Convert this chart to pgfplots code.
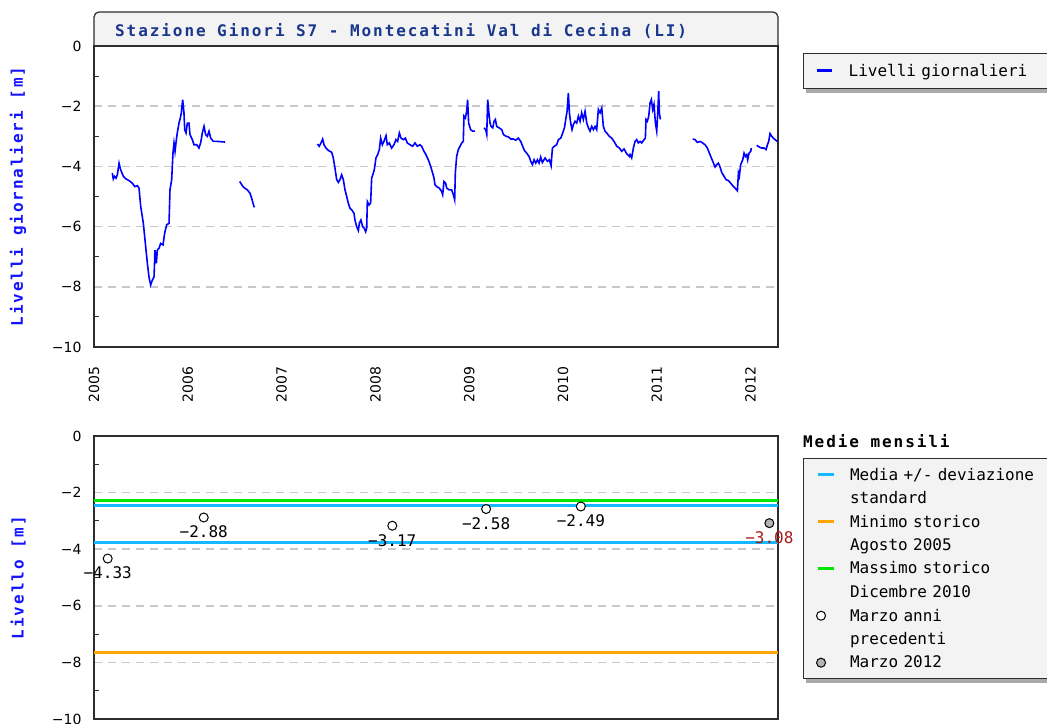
\documentclass[border=0pt]{standalone}
\usepackage{fontspec}
\setmainfont{DejaVu Sans}
\newfontfamily\mono{DejaVu Sans Mono}
\newfontfamily\monob[LetterSpace=12]{DejaVu Sans Mono}
\usepackage{pgfplots}
\pgfplotsset{compat=1.18}
\usetikzlibrary{backgrounds}

\definecolor{frame}{RGB}{45,45,45}
\definecolor{boxgray}{RGB}{243,243,243}
\definecolor{gridgray}{RGB}{200,200,200}
\definecolor{titleblue}{RGB}{25,55,140}
\definecolor{labelblue}{RGB}{20,20,255}
\definecolor{seriesblue}{RGB}{0,0,255}
\definecolor{cyanline}{RGB}{20,185,255}
\definecolor{orangeline}{RGB}{255,165,0}
\definecolor{greenline}{RGB}{0,230,0}
\definecolor{darkred}{RGB}{170,25,25}
\definecolor{markgray}{RGB}{180,180,180}
\definecolor{shadowgray}{RGB}{170,170,170}

\pgfplotsset{
  panel/.style={
    scale only axis, width=684pt,
    xmin=2005, xmax=2012.292, ymin=-10, ymax=0,
    axis line style={draw=frame, line width=1.2pt},
    ytick={-10,-8,-6,-4,-2,0},
    yticklabels={−10,−8,−6,−4,−2,0},
    minor ytick={-9,-7,-5,-3,-1},
    ymajorgrids,
    major grid style={gridgray, dash pattern=on 8pt off 6pt, line width=1.5pt},
    ytick pos=left, tick align=inside,
    major tick length=0pt, minor tick length=5pt,
    minor tick style={frame, line width=1pt},
    yticklabel style={font=\fontsize{14}{16}\selectfont, xshift=-9pt},
    ylabel style={font=\monob\bfseries\fontsize{16}{19}\selectfont, text=labelblue,
      at={(axis description cs:-0.111,0.5)}, anchor=center},
    legend style={anchor=north west, fill=boxgray, draw=frame, line width=1pt,
      font=\mono\fontsize{16}{19}\selectfont, inner xsep=3pt},
    legend cell align=left,
  },
  lineimg/.style={legend image code/.code={\path (0pt,0pt) (36pt,0pt);
      \draw[##1] (10pt,0pt) -- (26pt,0pt);}},
  thickimg/.style={legend image code/.code={\path (0pt,0pt) (36pt,0pt);
      \draw[##1, line width=3pt] (10pt,0pt) -- (25pt,0pt);}},
  markimg/.style={legend image code/.code={\path (0pt,0pt) (36pt,0pt);
      \draw[##1] plot coordinates {(13pt,0pt)};}},
  emptyimg/.style={legend image code/.code={\path (0pt,0pt) (36pt,0pt);}},
}

\begin{document}
\begin{tikzpicture}[x=1pt,y=1pt]
\useasboundingbox (0,0) rectangle (1047,-723);
\clip (0,0) rectangle (1047,-723);

% title box of the upper panel
\filldraw[fill=boxgray, draw=frame, line width=1.2pt, rounded corners=5pt]
  (94,-46) -- (94,-12) -- (778,-12) -- (778,-46);
\node[anchor=west, inner sep=0pt, text=titleblue, font=\monob\bfseries\fontsize{16}{19}\selectfont]
  at (115,-31) {Stazione Ginori S7 - Montecatini Val di Cecina (LI)};

\begin{axis}[panel,
  at={(94pt,-46pt)}, anchor=north west, height=301pt,
  xtick={2005,2006,2007,2008,2009,2010,2011,2012},
  xticklabels={2005,2006,2007,2008,2009,2010,2011,2012},
  xtick style={draw=none},
  xticklabel style={font=\fontsize{14}{16}\selectfont, yshift=-16pt, rotate=90, anchor=east},
  ylabel={Livelli giornalieri [m]},
  legend style={name=legtop, at={(1.0366,0.9767)}, inner ysep=3.5pt,
    nodes={text width=220pt, inner xsep=4.5pt, inner ysep=7pt}},
]
\addplot[seriesblue, line width=1.6pt, unbounded coords=jump, thickimg] coordinates {
(2005.195,-4.22)(2005.206,-4.42)(2005.220,-4.33)(2005.235,-4.39)(2005.249,-4.28)(2005.267,-3.89)
(2005.284,-4.11)(2005.313,-4.33)(2005.338,-4.41)(2005.373,-4.47)(2005.409,-4.56)(2005.434,-4.67)
(2005.462,-4.64)(2005.480,-4.72)(2005.498,-5.33)(2005.526,-5.89)(2005.551,-6.67)(2005.569,-7.22)
(2005.586,-7.67)(2005.604,-7.94)(2005.622,-7.78)(2005.640,-7.67)(2005.650,-6.78)(2005.665,-7.22)
(2005.675,-6.78)(2005.693,-6.72)(2005.711,-6.56)(2005.736,-6.61)(2005.753,-6.22)(2005.775,-5.94)
(2005.800,-5.89)(2005.810,-4.78)(2005.828,-4.44)(2005.842,-3.56)(2005.853,-3.22)(2005.864,-3.50)
(2005.878,-3.11)(2005.888,-2.89)(2005.906,-2.56)(2005.917,-2.44)(2005.931,-2.22)(2005.945,-1.78)
(2005.959,-2.22)(2005.967,-2.78)(2005.981,-2.89)(2005.995,-2.56)(2006.013,-2.56)(2006.023,-2.94)
(2006.048,-3.11)(2006.066,-3.28)(2006.095,-3.28)(2006.119,-3.39)(2006.137,-3.22)(2006.155,-2.89)
(2006.173,-2.67)(2006.190,-2.94)(2006.208,-3.00)(2006.226,-2.83)(2006.244,-3.06)(2006.272,-3.17)
(2006.315,-3.17)(2006.397,-3.19)
(2006.45,nan)
(2006.553,-4.50)(2006.581,-4.64)(2006.606,-4.72)(2006.635,-4.78)(2006.663,-4.89)(2006.681,-5.06)
(2006.695,-5.22)(2006.709,-5.36)
(2007.0,nan)
(2007.381,-3.26)(2007.402,-3.33)(2007.420,-3.22)(2007.438,-3.09)(2007.452,-3.28)(2007.473,-3.39)
(2007.498,-3.47)(2007.534,-3.53)(2007.551,-3.72)(2007.569,-4.06)(2007.587,-4.44)(2007.605,-4.53)
(2007.622,-4.44)(2007.640,-4.28)(2007.658,-4.44)(2007.676,-4.78)(2007.694,-5.00)(2007.711,-5.22)
(2007.729,-5.39)(2007.747,-5.44)(2007.772,-5.56)(2007.782,-5.78)(2007.800,-6.00)(2007.818,-6.13)
(2007.829,-5.89)(2007.846,-5.78)(2007.864,-6.00)(2007.882,-6.06)(2007.896,-6.17)(2007.907,-6.06)
(2007.914,-5.17)(2007.932,-5.28)(2007.949,-5.22)(2007.960,-4.39)(2007.978,-4.22)(2007.988,-4.11)
(2008.006,-3.72)(2008.024,-3.61)(2008.042,-3.44)(2008.056,-3.06)(2008.074,-3.28)(2008.091,-3.17)
(2008.113,-2.98)(2008.127,-3.28)(2008.148,-3.22)(2008.173,-3.39)(2008.198,-3.28)(2008.219,-3.11)
(2008.237,-3.17)(2008.255,-2.89)(2008.273,-3.06)(2008.298,-3.11)(2008.319,-3.06)(2008.340,-3.22)
(2008.369,-3.28)(2008.397,-3.33)(2008.422,-3.22)(2008.447,-3.33)(2008.475,-3.28)(2008.493,-3.33)
(2008.518,-3.50)(2008.539,-3.61)(2008.564,-3.78)(2008.589,-4.00)(2008.610,-4.22)(2008.625,-4.39)
(2008.635,-4.61)(2008.653,-4.67)(2008.681,-4.72)(2008.706,-4.83)(2008.717,-4.94)(2008.731,-4.50)
(2008.749,-4.56)(2008.760,-4.72)(2008.788,-4.78)(2008.813,-4.78)(2008.831,-4.94)(2008.845,-5.11)
(2008.852,-4.22)(2008.866,-3.67)(2008.884,-3.44)(2008.902,-3.33)(2008.920,-3.22)(2008.937,-3.17)
(2008.944,-2.33)(2008.959,-2.39)(2008.973,-2.17)(2008.983,-1.78)(2008.994,-2.56)(2009.015,-2.78)
(2009.037,-2.83)(2009.062,-2.83)
(2009.1,nan)
(2009.158,-2.72)(2009.176,-2.78)(2009.187,-2.94)(2009.197,-1.78)(2009.208,-2.17)(2009.222,-2.56)
(2009.233,-2.67)(2009.251,-2.72)(2009.265,-2.50)(2009.279,-2.44)(2009.293,-2.67)(2009.318,-2.72)
(2009.347,-2.78)(2009.364,-2.94)(2009.393,-3.00)(2009.418,-3.02)(2009.443,-3.09)(2009.471,-3.09)
(2009.496,-3.13)(2009.524,-3.06)(2009.549,-3.17)(2009.570,-3.33)(2009.588,-3.47)(2009.613,-3.56)
(2009.638,-3.67)(2009.656,-3.83)(2009.674,-3.94)(2009.691,-3.78)(2009.709,-3.89)(2009.727,-3.78)
(2009.745,-3.89)(2009.762,-3.69)(2009.780,-3.87)(2009.809,-3.72)(2009.833,-3.83)(2009.855,-3.78)
(2009.873,-3.98)(2009.887,-3.39)(2009.908,-3.33)(2009.933,-3.28)(2009.951,-3.11)(2009.976,-3.06)
(2009.997,-2.89)(2010.015,-2.72)(2010.029,-2.44)(2010.043,-2.17)(2010.057,-1.56)(2010.068,-2.22)
(2010.082,-2.56)(2010.096,-2.78)(2010.111,-2.61)(2010.128,-2.50)(2010.146,-2.56)(2010.164,-2.33)
(2010.182,-2.50)(2010.199,-2.22)(2010.217,-2.44)(2010.235,-2.17)(2010.253,-2.56)(2010.271,-2.72)
(2010.288,-2.83)(2010.306,-2.67)(2010.324,-2.78)(2010.342,-2.67)(2010.359,-2.78)(2010.377,-2.11)
(2010.395,-2.22)(2010.413,-2.06)(2010.430,-2.67)(2010.448,-2.83)(2010.466,-2.89)(2010.494,-3.00)
(2010.519,-3.06)(2010.544,-3.17)(2010.573,-3.33)(2010.601,-3.39)(2010.626,-3.50)(2010.651,-3.42)
(2010.679,-3.58)(2010.708,-3.67)(2010.715,-3.61)(2010.732,-3.72)(2010.750,-3.39)(2010.768,-3.17)
(2010.786,-3.11)(2010.803,-3.22)(2010.821,-3.17)(2010.839,-3.22)(2010.864,-3.11)(2010.878,-3.06)
(2010.885,-2.44)(2010.899,-2.50)(2010.914,-2.33)(2010.928,-1.89)(2010.942,-1.78)(2010.956,-2.11)
(2010.970,-1.94)(2010.985,-2.56)(2010.999,-2.83)(2011.010,-2.22)(2011.020,-1.50)(2011.027,-2.22)
(2011.038,-2.44)
(2011.2,nan)
(2011.383,-3.09)(2011.408,-3.11)(2011.432,-3.20)(2011.461,-3.17)(2011.489,-3.22)(2011.514,-3.28)
(2011.539,-3.39)(2011.567,-3.61)(2011.596,-3.83)(2011.621,-4.02)(2011.639,-3.94)(2011.656,-3.89)
(2011.674,-4.02)(2011.692,-4.20)(2011.717,-4.33)(2011.738,-4.44)(2011.763,-4.47)(2011.788,-4.56)
(2011.809,-4.64)(2011.834,-4.72)(2011.859,-4.81)(2011.870,-4.22)(2011.880,-4.33)(2011.894,-3.94)
(2011.916,-3.78)(2011.930,-3.56)(2011.944,-3.67)(2011.958,-3.61)(2011.969,-3.78)(2011.983,-3.56)
(2012.001,-3.50)(2012.008,-3.39)
(2012.03,nan)
(2012.065,-3.30)(2012.094,-3.36)(2012.118,-3.39)(2012.143,-3.39)(2012.165,-3.44)(2012.179,-3.28)
(2012.193,-3.17)(2012.207,-2.91)(2012.225,-3.00)(2012.243,-3.06)(2012.260,-3.11)(2012.285,-3.17)
};
\addlegendentry{Livelli giornalieri}
\end{axis}

\begin{axis}[panel,
  at={(94pt,-436pt)}, anchor=north west, height=283pt,
  xtick=\empty, clip=false,
  ylabel={Livello [m]},
  legend style={name=legbot, at={(1.0366,0.9223)}, inner ysep=6.5pt, row sep=4.2pt,
    nodes={text width=220pt, inner xsep=4.5pt, inner ysep=2.85pt}},
  nodes near coords style={font=\mono\fontsize{16}{19}\selectfont, anchor=north, inner sep=2pt, yshift=-6pt},
]
\addplot[cyanline, line width=3pt, lineimg] coordinates {(2005,-2.44) (2012.292,-2.44)};
\addlegendentry{Media +/- deviazione}
\addlegendimage{emptyimg}
\addlegendentry{standard}
\addplot[cyanline, line width=3pt, forget plot] coordinates {(2005,-3.77) (2012.292,-3.77)};
\addplot[orangeline, line width=3pt, lineimg] coordinates {(2005,-7.66) (2012.292,-7.66)};
\addlegendentry{Minimo storico}
\addlegendimage{emptyimg}
\addlegendentry{Agosto 2005}
\addplot[greenline, line width=3pt, lineimg] coordinates {(2005,-2.27) (2012.292,-2.27)};
\addlegendentry{Massimo storico}
\addlegendimage{emptyimg}
\addlegendentry{Dicembre 2010}
\addplot[only marks, mark=*, mark size=4.5pt, mark options={fill=white, draw=black, line width=1pt},
  markimg, nodes near coords, point meta=explicit symbolic,
  every node near coord/.append style={text=black}] coordinates {
(2005.146,-4.33)[−4.33]
(2006.170,-2.88)[−2.88]
(2008.180,-3.17)[−3.17]
(2009.180,-2.58)[−2.58]
(2010.190,-2.49)[−2.49]
};
\addlegendentry{Marzo anni}
\addlegendimage{emptyimg}
\addlegendentry{precedenti}
\addplot[only marks, mark=*, mark size=4.5pt, mark options={fill=markgray, draw=black, line width=1pt},
  markimg, nodes near coords, point meta=explicit symbolic,
  every node near coord/.append style={text=darkred}] coordinates {
(2012.200,-3.08)[−3.08]
};
\addlegendentry{Marzo 2012}
\end{axis}

% shadows under the two legend boxes
\begin{scope}[on background layer]
  \fill[shadowgray] ([xshift=3pt,yshift=-4pt]legtop.south west) rectangle ([xshift=3pt,yshift=-4pt]legtop.north east);
  \fill[shadowgray] ([xshift=3pt,yshift=-4pt]legbot.south west) rectangle ([xshift=3pt,yshift=-4pt]legbot.north east);
\end{scope}

\node[anchor=base west, inner sep=0pt, font=\monob\bfseries\fontsize{16}{19}\selectfont]
  at (803,-447) {Medie mensili};
\end{tikzpicture}
\end{document}
